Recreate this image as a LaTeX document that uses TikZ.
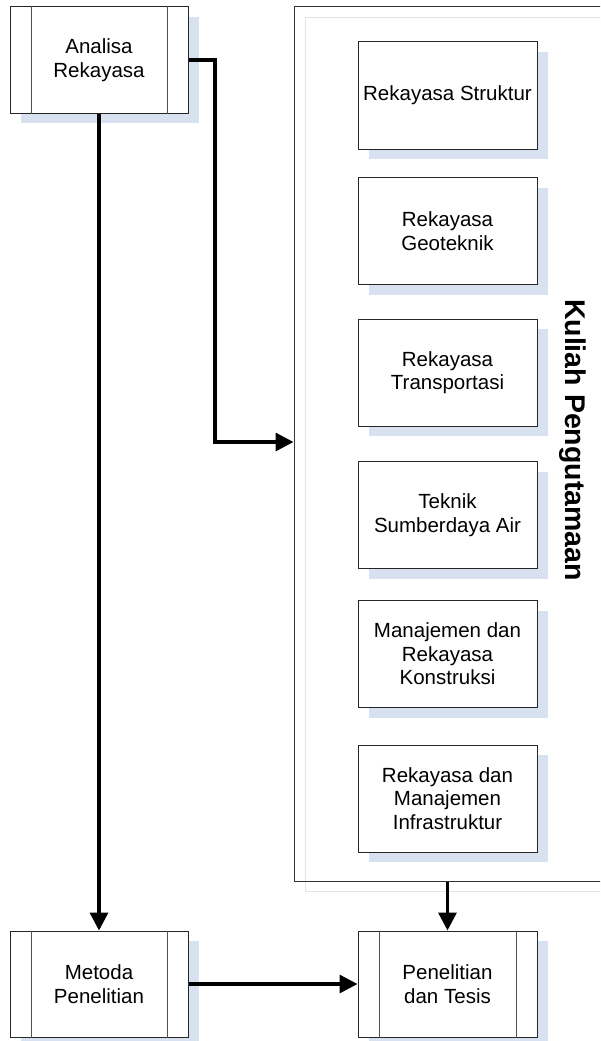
\documentclass[tikz,border=0pt]{standalone}
\usepackage{fontspec}
\setmainfont{Liberation Sans}
\usetikzlibrary{arrows.meta,shadows,calc}
\definecolor{shadowc}{RGB}{216,225,240}
\definecolor{faintc}{RGB}{226,228,232}
\definecolor{innerc}{RGB}{80,80,80}
\tikzset{
  boxbase/.style={draw=black!85, line width=1pt, fill=white, inner sep=0pt,
    align=center, font=\fontsize{20.5}{23.5}\selectfont,
    drop shadow={shadow xshift=11pt, shadow yshift=-10pt, fill=shadowc, opacity=1}},
  procbox/.style={boxbase, minimum width=178pt, minimum height=106pt},
  topicbox/.style={boxbase, minimum width=179pt, minimum height=107pt},
  innerline/.style={draw=innerc, line width=1.4pt},
  flow/.style={line width=3.4pt, -{Triangle[length=18pt,width=18pt]}},
}
\begin{document}
\begin{tikzpicture}[x=1pt,y=-1pt]
\useasboundingbox (0,0) rectangle (600,1041);
\clip (0,0) rectangle (600,1041);
\fill[white] (0,0) rectangle (600,1041);

% big container
\draw[faintc, line width=0.9pt] (305,17) rectangle (640,891);
\node[draw=black!80, line width=1pt, minimum width=346pt, minimum height=874pt, inner sep=0pt] (big) at (467,444) {};

% inner topic boxes
\node[topicbox] (s1) at (447.5,95.5) {Rekayasa Struktur};
\node[topicbox] (s2) at (447.5,231) {Rekayasa\\Geoteknik};
\node[topicbox] (s3) at (447.5,372.5) {Rekayasa\\Transportasi};
\node[topicbox] (s4) at (447.5,515) {Teknik\\Sumberdaya Air};
\node[topicbox] (s5) at (447.5,654) {Manajemen dan\\Rekayasa\\Konstruksi};
\node[topicbox] (s6) at (447.5,798.5) {Rekayasa dan\\Manajemen\\Infrastruktur};

\node[rotate=-90, font=\fontsize{28.5}{32}\selectfont\bfseries, inner sep=0pt] (kp) at (573,440) {Kuliah Pengutamaan};

% process boxes
\node[procbox] (ar) at (99,60) {Analisa\\Rekayasa};
\node[procbox] (mp) at (99,984) {Metoda\\Penelitian};
\node[procbox, minimum width=179pt] (pt) at (447.5,984) {Penelitian\\dan Tesis};

\foreach \n in {ar,mp,pt}{
  \draw[innerline] ([xshift=22pt]\n.north west) -- ([xshift=22pt]\n.south west);
  \draw[innerline] ([xshift=-21pt]\n.north east) -- ([xshift=-21pt]\n.south east);
}

% connectors
\coordinate (bend1) at (215,60);
\coordinate (bend2) at (215,442);
\draw[flow] (ar.east) -- (bend1) -- (bend2) -- (bend2 -| big.west);
\draw[flow] (ar.south) -- (mp.north);
\draw[flow] (pt.north |- big.south) -- (pt.north);
\draw[flow] (mp.east) -- (pt.west);
\end{tikzpicture}
\end{document}
